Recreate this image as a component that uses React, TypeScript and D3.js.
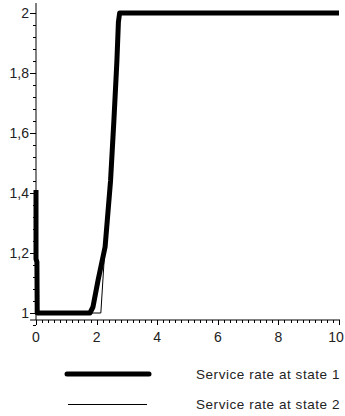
import React from "react";
import * as d3 from "d3";

const state1: [number, number][] = [
  [0, 1.41], [0.0, 1.18], [0.03, 1.17], [0.04, 1.0], [1.78, 1.0], [1.88, 1.02],
  [2.05, 1.11], [2.28, 1.22], [2.46, 1.44], [2.57, 1.64], [2.67, 1.84],
  [2.72, 1.97], [2.76, 2.0], [10, 2.0],
];
const state2: [number, number][] = [
  [0, 1.0], [2.14, 1.0], [2.27, 1.21], [2.46, 1.44], [2.57, 1.64], [2.67, 1.84],
  [2.72, 1.97], [2.76, 2.0], [10, 2.0],
];
const xTickLabels = [0, 2, 4, 6, 8, 10];
const yTickLabels = [1, 1.2, 1.4, 1.6, 1.8, 2];
const legendLabels = ["Service rate at state 1", "Service rate at state 2"];

export default function App() {
  const x = d3.scaleLinear().domain([0, 10]).range([36, 339]);
  const y = d3.scaleLinear().domain([1, 2]).range([313, 13]);
  const axisY = 320;
  const line = d3
    .line<[number, number]>()
    .x((d) => x(d[0]))
    .y((d) => y(d[1]));
  const xMinor = d3.range(0, 10.001, 0.2);
  const yMinor = d3.range(0.96, 2.0001, 0.04);
  const fmt = (v: number) => String(+v.toFixed(1)).replace(".", ",");
  const font = "Liberation Sans, Arial, sans-serif";
  return (
    <svg
      width={345}
      height={416}
      style={{ position: "absolute", left: 0, top: 0, background: "#fff" }}
    >
      {/* axes */}
      <line x1={x(0)} x2={x(0)} y1={3} y2={axisY} stroke="#000" strokeWidth={1} />
      <line x1={30} x2={x(10) + 1} y1={axisY} y2={axisY} stroke="#000" strokeWidth={1} />
      {xMinor.map((t, i) => {
        const major = i % 10 === 0;
        return (
          <line
            key={"xt" + i}
            x1={Math.round(x(t)) + 0.5}
            x2={Math.round(x(t)) + 0.5}
            y1={axisY}
            y2={axisY + (major ? 5 : 3)}
            stroke="#000"
            strokeWidth={1}
          />
        );
      })}
      {yMinor.map((t, i) => {
        const major = Math.abs(t * 5 - Math.round(t * 5)) < 1e-6;
        return (
          <line
            key={"yt" + i}
            x1={x(0)}
            x2={x(0) - (major ? 6 : 3)}
            y1={Math.round(y(t)) + 0.5}
            y2={Math.round(y(t)) + 0.5}
            stroke="#000"
            strokeWidth={1}
          />
        );
      })}
      {xTickLabels.map((t) => (
        <text
          key={"xl" + t}
          x={Math.min(x(t), 336)}
          y={342}
          textAnchor="middle"
          fontFamily={font}
          fontSize={14}
          fill="#222"
        >
          {t}
        </text>
      ))}
      {yTickLabels.map((t) => (
        <text
          key={"yl" + t}
          x={29}
          y={y(t) + 5}
          textAnchor="end"
          fontFamily={font}
          fontSize={14}
          fill="#222"
        >
          {fmt(t)}
        </text>
      ))}
      {/* series */}
      <path d={line(state2) ?? ""} fill="none" stroke="#000" strokeWidth={1} />
      <path
        d={line(state1) ?? ""}
        fill="none"
        stroke="#000"
        strokeWidth={5}
        strokeLinejoin="round"
      />
      {/* legend */}
      <line x1={67} x2={149} y1={374} y2={374} stroke="#000" strokeWidth={5} strokeLinecap="round" />
      <line x1={68} x2={147} y1={404.5} y2={404.5} stroke="#000" strokeWidth={1} />
      {legendLabels.map((l, i) => (
        <text
          key={l}
          x={196}
          y={378.5 + i * 30.5}
          fontFamily={font}
          fontSize={13.5}
          letterSpacing={0.55}
          fill="#222"
        >
          {l}
        </text>
      ))}
    </svg>
  );
}
